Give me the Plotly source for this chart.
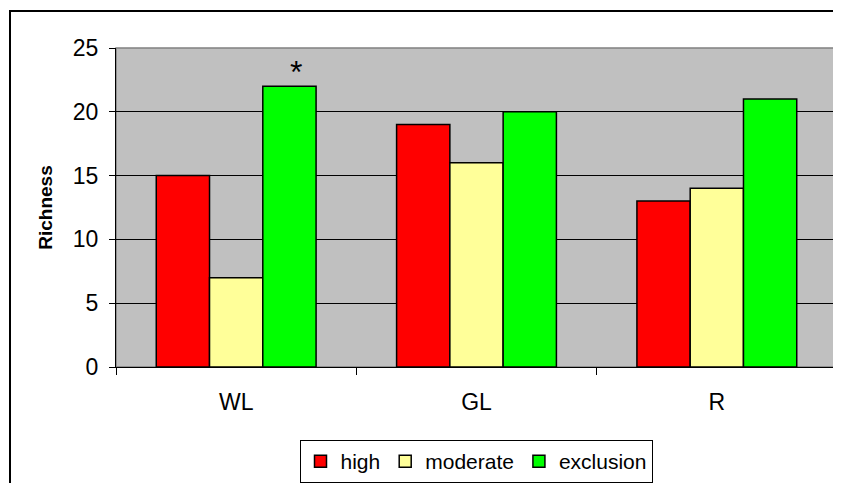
import plotly.graph_objects as go

categories = ["WL", "GL", "R"]
high = [15, 19, 13]
moderate = [7, 16, 14]
exclusion = [22, 20, 21]
series_names = ["high", "moderate", "exclusion"]
series_colors = ["#FF0000", "#FFFF99", "#00FF00"]
y_ticks = [0, 5, 10, 15, 20, 25]

FONT = "Liberation Sans, Arial, sans-serif"

# page body has an 8px margin; work in screen coordinates and compensate
OFF = 8
SW, SH = 841, 483
PX0, PX1, PY0, PY1 = 116, 837, 48, 367  # plot area in screen px

W, H = SW - OFF, SH - OFF
L = PX0 - OFF
T = PY0 - OFF
R = SW - PX1
B = SH - PY1
pw = PX1 - PX0
ph = PY1 - PY0


def px_x(x):
    return (x - PX0) / pw


def px_y(y):
    return (PY1 - y) / ph


fig = go.Figure()
for name, vals, col in zip(series_names, [high, moderate, exclusion], series_colors):
    fig.add_trace(go.Bar(
        x=categories, y=vals, name=name,
        marker=dict(color=col, line=dict(color="#000000", width=1.5)),
    ))

fig.update_layout(
    width=W, height=H,
    margin=dict(l=L, r=R, t=T, b=B, autoexpand=False),
    paper_bgcolor="white",
    plot_bgcolor="#C0C0C0",
    barmode="group",
    bargap=0.335,
    bargroupgap=0,
    font=dict(family=FONT, size=23, color="#000000"),
    showlegend=True,
    legend=dict(
        orientation="h",
        x=px_x(476), xanchor="center",
        y=px_y(440), yanchor="top",
        bordercolor="#000000", borderwidth=1,
        bgcolor="white",
        font=dict(size=21),
        itemwidth=30,
        tracegroupgap=0,
    ),
    xaxis=dict(
        type="category",
        showline=True, linecolor="#000000", linewidth=1,
        ticks="outside", ticklen=7, tickcolor="#000000",
        tickson="boundaries",
        showgrid=False,
        tickfont=dict(size=23),
        ticklabelstandoff=14,
        automargin=False,
    ),
    yaxis=dict(
        range=[0, 25],
        tickvals=y_ticks,
        showline=True, linecolor="#000000", linewidth=1,
        ticks="outside", ticklen=6, tickcolor="#000000",
        showgrid=True, gridcolor="#000000", gridwidth=1,
        zeroline=False,
        tickfont=dict(size=23),
        ticklabelstandoff=6,
        automargin=False,
        title=dict(text="<b>Richness</b>", font=dict(size=19), standoff=15),
    ),
    shapes=[
        dict(type="rect", xref="paper", yref="paper", x0=0, x1=1, y0=0, y1=1,
             line=dict(color="#808080", width=1.5), layer="below"),
        dict(type="rect", xref="paper", yref="paper",
             x0=px_x(10), x1=px_x(860), y0=px_y(500), y1=px_y(11),
             line=dict(color="#000000", width=2)),
    ],
    annotations=[
        dict(x="WL", y=exclusion[0], xref="x", yref="y", text="*",
             showarrow=False, yanchor="bottom", xshift=60, yshift=-6,
             font=dict(size=32, color="#000000")),
    ],
)

fig.write_html("out.html")
